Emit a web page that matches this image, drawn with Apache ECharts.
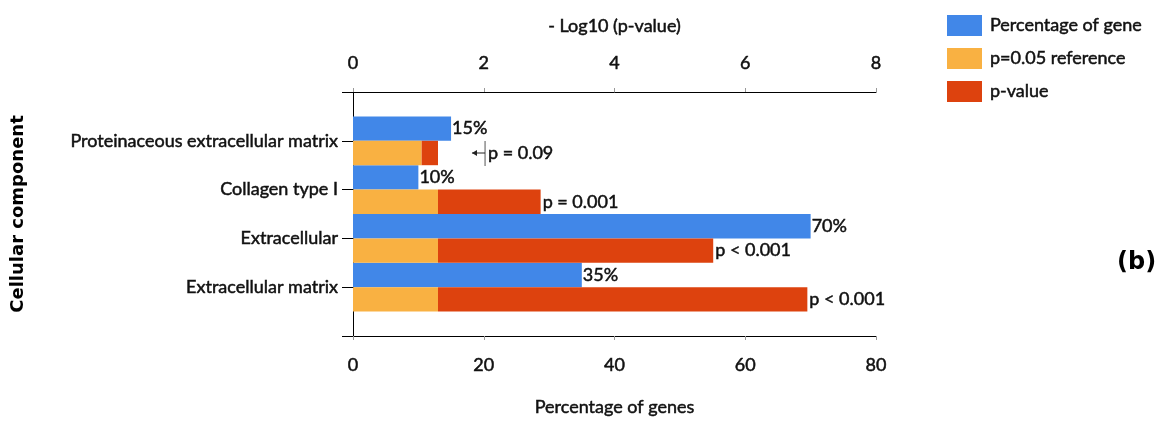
<!DOCTYPE html>
<html><head><meta charset="utf-8">
<script src="https://cdn.jsdelivr.net/npm/echarts@6/dist/echarts.min.js"></script>
<style>html,body{margin:0;padding:0;background:#fff}#c{width:1164px;height:424px}</style>
</head><body><div id="c"></div>
<script>
const categories = ['Proteinaceous extracellular matrix', 'Collagen type I', 'Extracellular', 'Extracellular matrix'];
const percentGenes = [15, 10, 70, 35];
const percentLabels = ['15%', '10%', '70%', '35%'];
const refSegment = [1.05, 1.3, 1.3, 1.3];        // orange: p=0.05 reference
const pValueSegment = [0.25, 1.57, 4.21, 5.65];  // red: stacked p-value part
const pLabels = ['p = 0.09', 'p = 0.001', 'p < 0.001', 'p < 0.001'];
const pctAxis = { min: 0, max: 80, interval: 20 };
const logAxis = { min: 0, max: 8, interval: 2 };
const legendNames = ['Percentage of gene', 'p=0.05 reference', 'p-value'];
const colors = ['#4187E8', '#F9B142', '#DD420E'];

const FONT = 'Lato, "Open Sans", sans-serif';
const TXT = '#111';
const heavy = { textBorderColor: '#111', textBorderWidth: 0.5 };
const yCats = [''].concat(categories, ['']);
const pad = arr => ['-'].concat(arr, ['-']);

const chart = echarts.init(document.getElementById('c'), null, { renderer: 'canvas' });

const axisBase = {
  type: 'value',
  splitLine: { show: false },
  axisLine: { show: true, lineStyle: { color: '#000', width: 1 } },
  axisTick: { show: true, length: 4, lineStyle: { color: '#999' } },
  axisLabel: Object.assign({ fontFamily: FONT, fontSize: 18, color: TXT, margin: 20 }, heavy),
  nameLocation: 'middle',
  nameTextStyle: Object.assign({ fontFamily: FONT, fontSize: 18, color: TXT }, heavy)
};

const redData = pValueSegment.map((v, i) => {
  const d = { value: v };
  if (i === 0) d.label = { distance: 50 };
  return d;
});

chart.setOption({
  animation: false,
  textStyle: { fontFamily: FONT },
  color: colors,
  grid: { left: 353, right: 288, top: 92, bottom: 88, containLabel: false },
  legend: {
    orient: 'vertical', left: 947, top: 15, padding: 0, itemWidth: 35, itemHeight: 21, itemGap: 12,
    icon: 'rect', data: legendNames,
    textStyle: Object.assign({ fontFamily: FONT, fontSize: 18, color: TXT, padding: [0, 0, 0, 3] }, heavy)
  },
  xAxis: [
    Object.assign({}, axisBase, {
      position: 'bottom', min: pctAxis.min, max: pctAxis.max, interval: pctAxis.interval,
      name: 'Percentage of genes', nameGap: 62
    }),
    Object.assign({}, axisBase, {
      position: 'top', min: logAxis.min, max: logAxis.max, interval: logAxis.interval,
      name: '- Log10 (p-value)', nameGap: 57
    })
  ],
  yAxis: {
    type: 'category', inverse: true, boundaryGap: false, data: yCats,
    axisLine: { show: true, lineStyle: { color: '#000', width: 1 } },
    axisTick: { show: true, length: 11, interval: 0, lineStyle: { color: '#000' } },
    axisLabel: Object.assign({ interval: 0, fontFamily: FONT, fontSize: 18, color: TXT, margin: 15 }, heavy),
    name: 'Cellular component', nameLocation: 'middle', nameRotate: 90, nameGap: 326,
    nameTextStyle: { fontFamily: '"DejaVu Sans", sans-serif', fontSize: 18, fontWeight: 'bold', color: '#000' }
  },
  series: [
    {
      name: legendNames[0], type: 'bar', xAxisIndex: 0, yAxisIndex: 0,
      data: pad(percentGenes), barGap: '0%', barCategoryGap: '0%',
      itemStyle: { color: colors[0] },
      label: Object.assign({ show: true, position: 'right', distance: 1, fontFamily: FONT, fontSize: 18, color: TXT,
        formatter: p => percentLabels[p.dataIndex - 1] }, heavy)
    },
    {
      name: legendNames[1], type: 'bar', xAxisIndex: 1, yAxisIndex: 0, stack: 'p',
      data: pad(refSegment), barGap: '0%', barCategoryGap: '0%',
      itemStyle: { color: colors[1] }
    },
    {
      name: legendNames[2], type: 'bar', xAxisIndex: 1, yAxisIndex: 0, stack: 'p',
      data: ['-'].concat(redData, ['-']), barGap: '0%', barCategoryGap: '0%',
      itemStyle: { color: colors[2] },
      label: Object.assign({ show: true, position: 'right', distance: 2, fontFamily: FONT, fontSize: 18, color: TXT,
        formatter: p => pLabels[p.dataIndex - 1] }, heavy)
    }
  ]
});

// annotation arrow for row 1, placed through the axis scales
const cy = chart.convertToPixel({ yAxisIndex: 0 }, categories[0]);
const bw = chart.getModel().getComponent('yAxis', 0).axis.getBandWidth();
const rowY = cy + bw / 4;
const xBar = chart.convertToPixel({ xAxisIndex: 1 }, 2.02);
const xTip = chart.convertToPixel({ xAxisIndex: 1 }, 1.82);
chart.setOption({
  graphic: [
    { type: 'line', shape: { x1: xBar, y1: rowY - 12, x2: xBar, y2: rowY + 13 }, style: { stroke: '#555', lineWidth: 1 } },
    { type: 'line', shape: { x1: xTip, y1: rowY, x2: xBar, y2: rowY }, style: { stroke: '#222', lineWidth: 1 } },
    { type: 'polygon', shape: { points: [[xTip, rowY], [xTip + 5, rowY - 3], [xTip + 5, rowY + 3]] }, style: { fill: '#222' } },
    { type: 'text', left: 1117, top: 251, style: { text: '(b)', font: 'bold 24px "DejaVu Sans", sans-serif', fill: '#000' } }
  ]
});
</script></body></html>
